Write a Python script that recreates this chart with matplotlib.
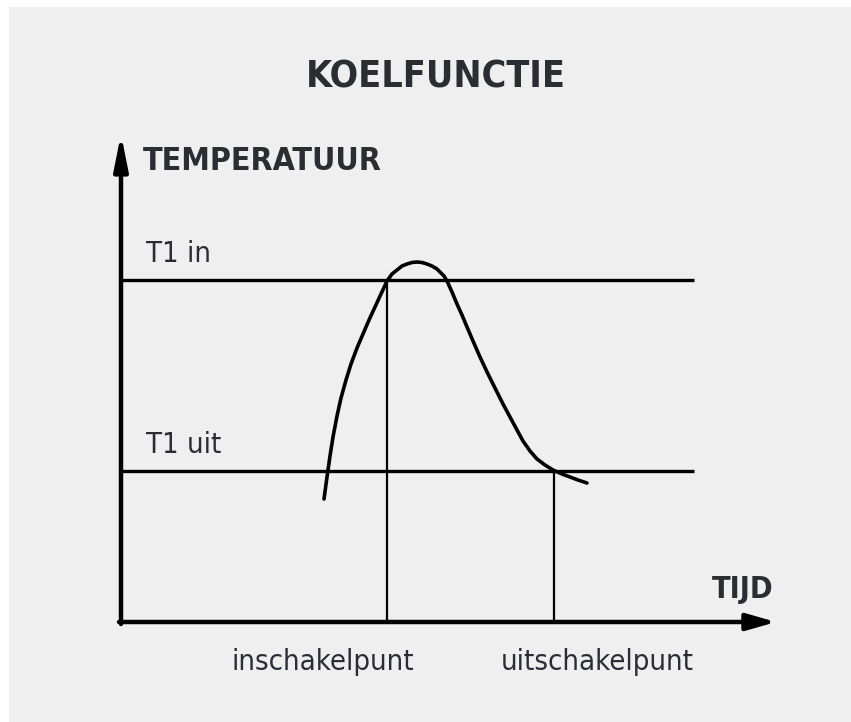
import matplotlib
matplotlib.use("Agg")
import matplotlib.pyplot as plt
from matplotlib.patches import Rectangle, FancyArrowPatch

# Temperature curve (time, temperature) in diagram units
curve_t = [203, 206, 209, 212, 216, 220, 225, 230, 236, 242, 248, 254, 260, 266,
           271, 276, 281, 286, 291, 296, 301, 306, 311, 316, 320, 323, 326,
           331, 336, 341, 346, 352, 359, 367, 375, 382, 389, 396, 402, 409,
           416, 424, 432, 441, 449, 457, 466]
curve_T = [123, 145, 166, 185, 206, 224, 242, 258, 274, 288, 302, 315, 328, 341,
           348, 352, 356, 358, 359.5, 360, 359.5, 358, 356, 353, 349, 346, 341,
           330, 318, 307, 295, 281, 265, 248, 232, 218, 205, 192, 181, 171,
           163, 157, 152, 148, 145, 142, 139]

# Switching thresholds and switch moments
levels = [342, 151]
level_labels = ["T1 in", "T1 uit"]
switch_times = [266, 433]
switch_labels = ["inschakelpunt", "uitschakelpunt"]
line_end = 573
t_max = 655
T_max = 488

dark = "#2b2d33"
bg = "#efefef"
font = dict(family="DejaVu Sans", stretch="condensed")

fig = plt.figure(figsize=(8.51, 7.22), dpi=100, facecolor="white")
fig.patches.append(Rectangle((9 / 851, 0), 1, 715 / 722, transform=fig.transFigure,
                             facecolor=bg, edgecolor="none", zorder=-5))

ax = fig.add_axes([0, 0, 1, 1])
ax.set_xlim(-121, 730)
ax.set_ylim(-100, 622)
ax.axis("off")

# axes with arrow heads
ax.add_patch(FancyArrowPatch((0, -2), (0, T_max), arrowstyle="-|>,head_length=9.5,head_width=1.9",
                             mutation_scale=2.2, lw=3.2, color="black", shrinkA=0, shrinkB=0))
ax.add_patch(FancyArrowPatch((-2, 0), (t_max, 0), arrowstyle="-|>,head_length=8,head_width=2.3",
                             mutation_scale=2.2, lw=3.2, color="black", shrinkA=0, shrinkB=0))

# threshold lines
for lv in levels:
    ax.plot([0, line_end], [lv, lv], color="black", lw=2.4, solid_capstyle="butt")

# switching moments
for st, lv in zip(switch_times, levels):
    ax.plot([st, st], [0, lv], color="black", lw=1.6)

ax.plot(curve_t, curve_T, color="black", lw=2.6, solid_joinstyle="round",
        solid_capstyle="round")

fig.text(436 / 851, 1 - 78 / 722, "KOELFUNCTIE", ha="center", va="center",
         weight="bold", fontsize=27, color=dark, **font)
ax.text(22, 480 - 20, "TEMPERATUUR", ha="left", va="center",
        weight="bold", fontsize=23, color=dark, **font)
ax.text(652, 32, "TIJD", ha="right", va="center",
        weight="bold", fontsize=22, color=dark, **font)

for lv, lab in zip(levels, level_labels):
    ax.text(25, lv + 26, lab, ha="left", va="center",
            fontsize=21, color=dark, **font)

for x, lab in zip([323 - 121, 597 - 121], switch_labels):
    ax.text(x, -40, lab, ha="center", va="center",
            fontsize=21, color=dark, **font)

fig.savefig("out.png", dpi=100, facecolor=fig.get_facecolor())
